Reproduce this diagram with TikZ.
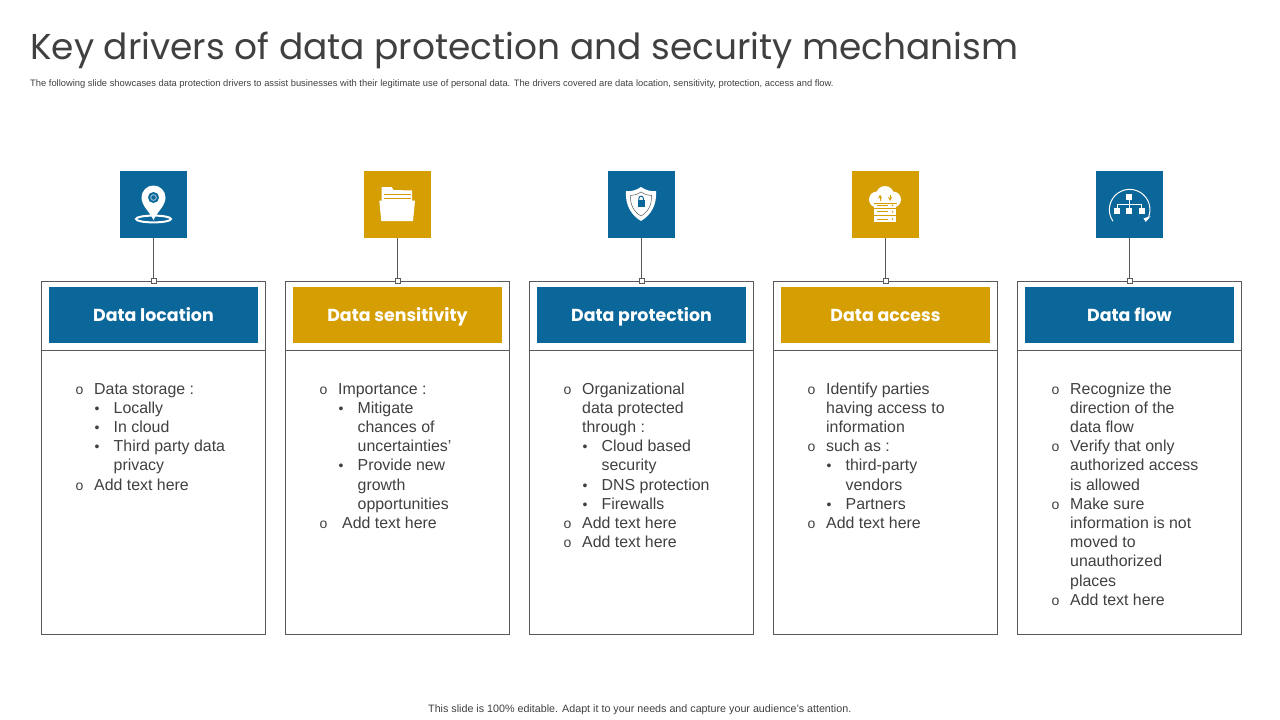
\documentclass[tikz,border=0pt]{standalone}
\usepackage{fontspec}
\setmainfont{Liberation Sans}
\newfontfamily\headfont{Poppins}
\definecolor{brandblue}{HTML}{0B6699}
\definecolor{brandgold}{HTML}{D59E03}
\definecolor{edgegrey}{HTML}{595959}
\definecolor{bodygrey}{HTML}{404040}
\tikzset{
  x=1pt,y=-1pt,
  cardbox/.style={draw=edgegrey,line width=1pt,fill=white,minimum width=224.5pt,minimum height=353pt,inner sep=0pt,outer sep=0pt},
  headbar/.style={minimum width=209pt,minimum height=56pt,inner sep=0pt},
  headlabel/.style={inner sep=0pt,text=white,text height=13pt,text depth=4pt,font=\headfont\fontsize{17.4}{20}\selectfont\bfseries},
  iconbox/.style={minimum width=67pt,minimum height=67pt,inner sep=0pt,outer sep=0pt},
  pinsquare/.style={draw=edgegrey,line width=0.8pt,fill=white,minimum width=5pt,minimum height=5pt,inner sep=0pt,outer sep=0pt},
  wire/.style={draw=edgegrey,line width=1pt},
  bodyline/.style={anchor=base west,inner sep=0pt,text=bodygrey,font=\fontsize{15.9}{19}\selectfont},
  ringmark/.style={anchor=base west,inner sep=0pt,text=bodygrey,font=\fontsize{14}{19}\selectfont},
  dotmark/.style={anchor=base west,inner sep=0pt,text=bodygrey,font=\fontsize{14}{19}\selectfont},
}
% #1 id, #2 centre x, #3 colour, #4 heading
\newcommand{\drivercard}[4]{%
  \node[iconbox,fill=#3] (icon#1) at (#2,204.5) {};
  \node[cardbox] (card#1) at (#2-0.25,457.5) {};
  \node[pinsquare] (pin#1) at (#2,281) {};
  \draw[wire] (icon#1) -- (pin#1);
  \coordinate (sepA#1) at (#2-112.5,350);
  \coordinate (sepB#1) at (#2+112,350);
  \draw[wire] (sepA#1) -- (sepB#1);
  \node[headbar,fill=#3] (head#1) at (#2,315) {};
  \node[headlabel] (label#1) at (#2,317) {#4};
}
% #1 name #2 x #3 baseline y #4 text
\newcommand{\ringline}[4]{\node[ringmark] (#1m) at (#2,#3) {o};\node[bodyline] (#1) at (#2+18.5,#3) {#4};}
\newcommand{\dotline}[4]{\node[dotmark] (#1m) at (#2+19,#3) {•};\node[bodyline] (#1) at (#2+38,#3) {#4};}
\newcommand{\plainline}[4]{\node[bodyline] (#1) at (#2+18.5,#3) {#4};}
\newcommand{\subline}[4]{\node[bodyline] (#1) at (#2+38,#3) {#4};}
\begin{document}
\begin{tikzpicture}
\useasboundingbox (0,0) rectangle (1280,720);
\fill[white] (0,0) rectangle (1280,720);
\node[anchor=base west,inner sep=0pt,text=bodygrey,font=\headfont\fontsize{35.95}{40}\selectfont] (title) at (30,59) {Key drivers of data protection and security mechanism};
\node[anchor=base west,inner sep=0pt,text=bodygrey,font=\fontsize{9.36}{10}\selectfont] (subtitle) at (30,86) {The following slide showcases data protection drivers to assist businesses with their legitimate use of personal data. The drivers covered are data location, sensitivity, protection, access and flow.};
\node[anchor=base west,inner sep=0pt,text=bodygrey,font=\fontsize{10.73}{12}\selectfont] (footer) at (428,712) {This slide is 100\% editable. Adapt it to your needs and capture your audience's attention.};

\drivercard{A}{153.5}{brandblue}{Data location}
\drivercard{B}{397.5}{brandgold}{Data sensitivity}
\drivercard{C}{641.5}{brandblue}{Data protection}
\drivercard{D}{885.5}{brandgold}{Data access}
\drivercard{E}{1129.5}{brandblue}{Data flow}

% column A
\ringline{a1}{75.5}{394}{Data storage :}
\dotline{a2}{75.5}{413}{Locally}
\dotline{a3}{75.5}{432}{In cloud}
\dotline{a4}{75.5}{451}{Third party data}
\subline{a5}{75.5}{470}{privacy}
\ringline{a6}{75.5}{490}{Add text here}
% column B
\ringline{b1}{319.5}{394}{Importance :}
\dotline{b2}{319.5}{413}{Mitigate}
\subline{b3}{319.5}{432}{chances of}
\subline{b4}{319.5}{451}{uncertainties’}
\dotline{b5}{319.5}{470}{Provide new}
\subline{b6}{319.5}{490}{growth}
\subline{b7}{319.5}{509}{opportunities}
\ringline{b8}{319.5}{528}{\hspace{4pt}Add text here}
% column C
\ringline{c1}{563.5}{394}{Organizational}
\plainline{c2}{563.5}{413}{data protected}
\plainline{c3}{563.5}{432}{through :}
\dotline{c4}{563.5}{451}{Cloud based}
\subline{c5}{563.5}{470}{security}
\dotline{c6}{563.5}{490}{DNS protection}
\dotline{c7}{563.5}{509}{Firewalls}
\ringline{c8}{563.5}{528}{Add text here}
\ringline{c9}{563.5}{547}{Add text here}
% column D
\ringline{d1}{807.5}{394}{Identify parties}
\plainline{d2}{807.5}{413}{having access to}
\plainline{d3}{807.5}{432}{information}
\ringline{d4}{807.5}{451}{such as :}
\dotline{d5}{807.5}{470}{third-party}
\subline{d6}{807.5}{490}{vendors}
\dotline{d7}{807.5}{509}{Partners}
\ringline{d8}{807.5}{528}{Add text here}
% column E
\ringline{e1}{1051.5}{394}{Recognize the}
\plainline{e2}{1051.5}{413}{direction of the}
\plainline{e3}{1051.5}{432}{data flow}
\ringline{e4}{1051.5}{451}{Verify that only}
\plainline{e5}{1051.5}{470}{authorized access}
\plainline{e6}{1051.5}{490}{is allowed}
\ringline{e7}{1051.5}{509}{Make sure}
\plainline{e8}{1051.5}{528}{information is not}
\plainline{e9}{1051.5}{547}{moved to}
\plainline{e10}{1051.5}{566}{unauthorized}
\plainline{e11}{1051.5}{586}{places}
\ringline{e12}{1051.5}{605}{Add text here}

% location pin icon
\draw[white,line width=2pt] (153.5,219) ellipse [x radius=17.5,y radius=3.4];
\fill[white] (153.5,220) .. controls (150,212) and (141.5,206) .. (141.5,197.5) arc[start angle=180,end angle=360,radius=12] .. controls (165.5,206) and (157,212) .. (153.5,220) -- cycle;
\fill[brandblue] (153.5,197.5) circle[radius=5.5];
\fill[white!55!brandblue] (153.5,197.5) circle[radius=3.4];
\fill[brandblue] (153.5,197.5) circle[radius=2.2];

% folder icon
\fill[white] (381.7,201) -- (381.7,187) -- (391.7,187) -- (393.5,190) -- (412,190.5) -- (412,201) -- cycle;
\fill[brandgold] (383.5,193.5) rectangle (411,195);
\fill[brandgold] (383.5,197.5) rectangle (411,199);
\fill[white] (379.3,200.7) -- (415,200.7) -- (413,221) -- (381.3,221) -- cycle;

% shield icon
\fill[white] (641,187) .. controls (646,190.5) and (651,191.5) .. (656,191) .. controls (657,205) and (651,215) .. (641,221) .. controls (631,215) and (625,205) .. (626,191) .. controls (631,191.5) and (636,190.5) .. (641,187) -- cycle;
\draw[edgegrey,line width=0.5pt] (641,192) .. controls (645,194.5) and (648,195.5) .. (651.5,195.5) .. controls (652,205) and (648,212) .. (641,216) .. controls (634,212) and (630,205) .. (630.5,195.5) .. controls (634,195.5) and (637,194.5) .. (641,192) -- cycle;
\fill[brandblue] (637.5,200) rectangle (644.7,207);
\draw[brandblue,line width=1pt] (638.8,200) -- (638.8,198.5) arc[start angle=180,end angle=360,radius=2.3] -- (643.4,200);

% cloud and server icon
\fill[white] (877,199.5) circle[radius=8];
\fill[white] (885,195) circle[radius=9];
\fill[white] (893,199.5) circle[radius=8];
\fill[white] (874,200) rectangle (896,207.5);
\fill[white] (874,209) rectangle (896,214.5);
\fill[white] (874,216) rectangle (896,222);
\draw[brandgold,line width=0.9pt,-stealth] (880,201) -- (880,194.5);
\draw[brandgold,line width=0.9pt,-stealth] (890,194.5) -- (890,201);
\draw[brandgold,line width=0.6pt] (873.5,203) -- (896.5,203);
\draw[brandgold,line width=1pt] (877,205.2) -- (888,205.2);
\draw[brandgold,line width=1pt] (877,211.7) -- (888,211.7);
\draw[brandgold,line width=1pt] (877,219) -- (888,219);
\fill[brandgold] (892.5,205.2) circle[radius=0.9];
\fill[brandgold] (892.5,211.7) circle[radius=0.9];
\fill[brandgold] (892.5,219) circle[radius=0.9];

% data flow icon
\draw[white,line width=1pt] (1113,221.3) arc[start angle=145,end angle=390,radius=20.3];
\fill[white] (1143.5,218.3) -- (1150.5,216.2) -- (1145.7,222) -- cycle;
\draw[white,line width=0.8pt] (1129.3,197) -- (1129.3,210.5);
\draw[white,line width=0.8pt] (1117.3,210.5) -- (1117.3,204) -- (1141.7,204) -- (1141.7,210.5);
\fill[white] (1126.3,193.7) rectangle (1132.3,199.7);
\fill[white] (1114.3,207.7) rectangle (1120.3,213.7);
\fill[white] (1126.3,207.7) rectangle (1132.3,213.7);
\fill[white] (1138.7,207.7) rectangle (1144.7,213.7);
\end{tikzpicture}
\end{document}
